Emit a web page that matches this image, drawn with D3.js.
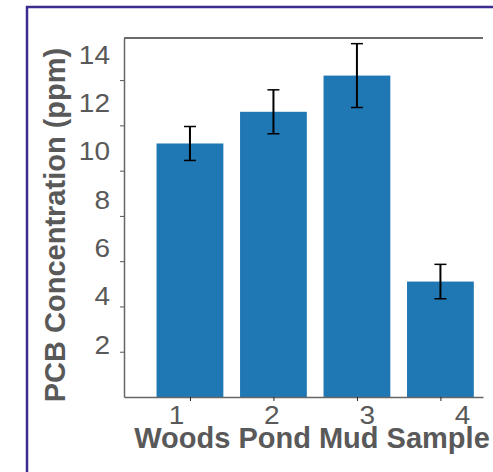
<!DOCTYPE html>
<html>
<head>
<meta charset="utf-8">
<script src="https://cdn.jsdelivr.net/npm/d3@7"></script>
<style>
    body { margin: 0; background: #fff; }
    svg { display: block; font-family: "Liberation Sans", Arial, sans-serif; }
</style>
</head>
<body>
<div id="chart"></div>
<script>
// data
const samples = [1, 2, 3, 4]
const means = [11.2, 12.6, 14.2, 5.1]
const errors = [0.75, 0.97, 1.41, 0.76]
const yTicks = [2, 4, 6, 8, 10, 12, 14]

const width = 493
const height = 472
const textColor = "#595959"
const font = "Liberation Sans, Arial, sans-serif"
const stretch = 1.12 // tick labels in the original are a bit wide

const svg = d3.select("#chart").append("svg")
    .attr("width", width)
    .attr("height", height)

// purple frame, runs off the right and bottom edges
svg.append("rect")
    .attr("x", 27).attr("y", 7)
    .attr("width", 600).attr("height", 600)
    .attr("fill", "none")
    .attr("stroke", "#3d2b8e")
    .attr("stroke-width", 2.5)

const x = d3.scaleLinear().domain([0.21, 4.51]).range([124, 483])
const y = d3.scaleLinear().domain([0, 15.86]).range([397, 38])
// the tick labels sit a little off their ticks in the original
const xLabel = d3.scaleLinear().domain([1, 4]).range([176, 462])
const yLabel = d3.scaleLinear().domain([2, 14]).range([345, 55])

const barW = 0.8
const data = samples.map((s, i) => ({ s: s, m: means[i], e: errors[i] }))

const g = svg.append("g")

g.selectAll("rect.bar").data(data).enter().append("rect")
    .classed("bar", true)
    .attr("x", d => x(d.s - barW / 2))
    .attr("width", d => x(d.s + barW / 2) - x(d.s - barW / 2))
    .attr("y", d => y(d.m))
    .attr("height", d => y(0) - y(d.m))
    .attr("fill", "#1f77b4")

// error bars
const err = g.selectAll("g.err").data(data).enter().append("g").classed("err", true)
err.append("line")
    .attr("x1", d => x(d.s)).attr("x2", d => x(d.s))
    .attr("y1", d => y(d.m + d.e)).attr("y2", d => y(d.m - d.e))
    .attr("stroke", "#000").attr("stroke-width", 2)
err.selectAll("line.cap").data(d => [[d.s, d.m + d.e], [d.s, d.m - d.e]]).enter().append("line")
    .classed("cap", true)
    .attr("x1", d => x(d[0]) - 6).attr("x2", d => x(d[0]) + 6)
    .attr("y1", d => y(d[1])).attr("y2", d => y(d[1]))
    .attr("stroke", "#000").attr("stroke-width", 1.5)

// top frame line
svg.append("line")
    .attr("x1", x.range()[0]).attr("x2", x.range()[1])
    .attr("y1", y.range()[1]).attr("y2", y.range()[1])
    .attr("stroke", "#3a3a3a").attr("stroke-width", 1.3)

const yAxis = svg.append("g")
    .attr("transform", `translate(${x.range()[0]},0)`)
    .call(d3.axisLeft(y).tickValues(yTicks).tickSize(4).tickSizeOuter(0))
    .attr("font-family", font)
    .attr("font-size", 25)
yAxis.select(".domain").attr("stroke", "#666").attr("stroke-width", 1.5)
yAxis.selectAll(".tick line").attr("stroke", "#555")
yAxis.selectAll(".tick text")
    .attr("x", 0)
    .attr("transform", d => `translate(-14,${yLabel(d) - y(d)}) scale(${stretch},1)`)
    .attr("fill", textColor)

const xAxis = svg.append("g")
    .attr("transform", `translate(0,${y(0)})`)
    .call(d3.axisBottom(x).tickValues(samples).tickFormat(d3.format("d")).tickSize(4).tickSizeOuter(0).tickPadding(5))
    .attr("font-family", font)
    .attr("font-size", 25)
xAxis.select(".domain").attr("stroke", "#666").attr("stroke-width", 1.5)
xAxis.selectAll(".tick line").attr("stroke", "#222")
xAxis.selectAll(".tick text")
    .attr("transform", d => `translate(${xLabel(d) - x(d)},0) scale(${stretch},1)`)
    .attr("fill", textColor)

svg.append("text")
    .attr("x", 312).attr("y", 448)
    .attr("text-anchor", "middle")
    .attr("fill", textColor)
    .style("font-size", "29px")
    .style("font-weight", "bold")
    .text("Woods Pond Mud Sample")

svg.append("text")
    .attr("transform", "translate(65,225) rotate(-90)")
    .attr("text-anchor", "middle")
    .attr("fill", textColor)
    .style("font-size", "29px")
    .style("font-weight", "bold")
    .text("PCB Concentration (ppm)")
</script>
</body>
</html>
